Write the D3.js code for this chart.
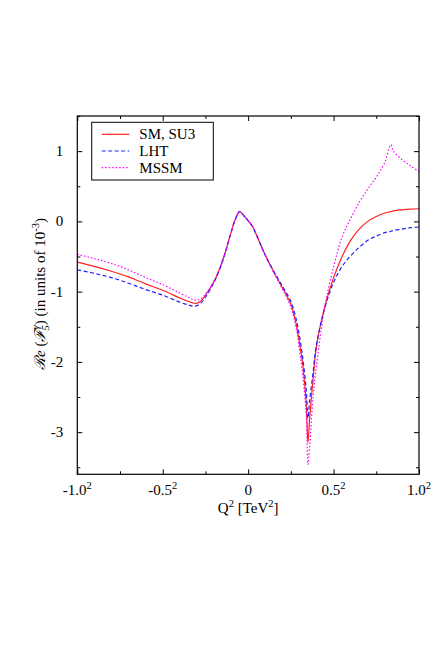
<!DOCTYPE html>
<html>
<head>
<meta charset="utf-8">
<script src="https://cdn.jsdelivr.net/npm/d3@7"></script>
<style>
body{margin:0;background:#fff;}
text{font-family:"Liberation Serif","DejaVu Serif",serif;}
</style>
</head>
<body>
<svg id="chart"></svg>
<script>
// Q values (signed, axis is labelled with the square)
var qVals   =[-1.0,-0.9,-0.8,-0.7,-0.6,-0.5,-0.4,-0.35,-0.325,-0.3,-0.275,-0.25,-0.2,-0.15,-0.1,-0.075,-0.05,-0.025,0,0.025,0.05,0.1,0.15,0.2,0.25,0.28,0.3,0.32,0.34,0.35,0.36,0.38,0.4,0.45,0.5,0.55,0.6,0.65,0.7,0.75,0.8,0.835,0.85,0.9,0.95,1.0];
var smVals  =[-0.58,-0.64,-0.71,-0.79,-0.89,-0.98,-1.09,-1.14,-1.16,-1.165,-1.13,-1.05,-0.86,-0.56,-0.16,0.03,0.14,0.08,0.01,-0.07,-0.2,-0.48,-0.72,-0.94,-1.18,-1.45,-1.72,-2.05,-2.6,-3.15,-2.8,-2.25,-1.78,-1.2,-0.8,-0.5,-0.27,-0.11,0.0,0.07,0.12,0.14,0.15,0.165,0.175,0.18];
var lhtVals =[-0.69,-0.74,-0.8,-0.88,-0.97,-1.05,-1.15,-1.19,-1.205,-1.2,-1.16,-1.08,-0.87,-0.57,-0.16,0.03,0.14,0.08,0.01,-0.07,-0.2,-0.48,-0.71,-0.92,-1.14,-1.38,-1.63,-1.95,-2.4,-2.8,-2.55,-2.15,-1.75,-1.22,-0.87,-0.64,-0.49,-0.37,-0.27,-0.21,-0.16,-0.14,-0.13,-0.11,-0.09,-0.08];
var mssmVals=[-0.47,-0.53,-0.6,-0.69,-0.8,-0.9,-1.02,-1.08,-1.11,-1.12,-1.1,-1.04,-0.85,-0.56,-0.16,0.03,0.14,0.08,0.01,-0.07,-0.2,-0.48,-0.73,-0.96,-1.22,-1.5,-1.83,-2.2,-2.75,-3.46,-3.2,-2.5,-2.05,-1.2,-0.65,-0.22,0.04,0.27,0.46,0.63,0.84,1.09,1.0,0.88,0.79,0.71];

var seriesNames=["SM, SU3","LHT","MSSM"];
var seriesColors=["#ff2020","#2020ff","#ff00ff"];
var seriesDash=[null,"4,2.5","1.5,2"];

var xMajor=[-1,-0.5,0,0.5,1];
var xMajorLabels=["-1.0","-0.5","0","0.5","1.0"];
var xMinor=[-0.75,-0.25,0.25,0.75];
var yMajor=[-3,-2,-1,0,1];
var yMinor=[-3.5,-2.5,-1.5,-0.5,0.5,1.5];

var W=436,H=654;
var pL=77.3,pR=419,pT=116,pB=474.3;

var svg=d3.select('#chart').attr('width',W).attr('height',H);
svg.append('rect').attr('width',W).attr('height',H).attr('fill','#fff');

var x=d3.scaleLinear().domain([-1,1]).range([pL,pR]);
var y=d3.scaleLinear().domain([-3.6,1.5]).range([pB,pT]);

// ticks on all four sides, pointing inward
function tickAxis(gen,vals,size,tr){
  var g=svg.append('g').attr('transform',tr)
    .call(gen.tickValues(vals).tickSizeInner(size).tickSizeOuter(0).tickFormat(''));
  g.select('.domain').remove();
  g.selectAll('line').attr('stroke','#000').attr('stroke-width',1);
  return g;
}
tickAxis(d3.axisBottom(x),xMajor,-5,'translate(0,'+pB+')');
tickAxis(d3.axisBottom(x),xMinor,-3,'translate(0,'+pB+')');
tickAxis(d3.axisTop(x),xMajor,-5,'translate(0,'+pT+')');
tickAxis(d3.axisTop(x),xMinor,-3,'translate(0,'+pT+')');
tickAxis(d3.axisLeft(y),yMajor,-5,'translate('+pL+',0)');
tickAxis(d3.axisLeft(y),yMinor,-3,'translate('+pL+',0)');
tickAxis(d3.axisRight(y),yMajor,-5,'translate('+pR+',0)');
tickAxis(d3.axisRight(y),yMinor,-3,'translate('+pR+',0)');

// tick labels
var xl=svg.append('g').selectAll('text').data(xMajor).enter().append('text')
  .attr('x',d=>x(d)).attr('y',pB+21)
  .attr('text-anchor','middle').attr('font-size',15);
xl.append('tspan').text((d,i)=>xMajorLabels[i]);
xl.filter(d=>d!==0).append('tspan').attr('dy',-6).attr('font-size',10.5).text('2');

svg.append('g').selectAll('text').data(yMajor).enter().append('text')
  .attr('x',pL-14).attr('y',d=>y(d)+5)
  .attr('text-anchor','end').attr('font-size',15)
  .text(d=>d);

// curves
var line=d3.line().x(d=>x(d[0])).y(d=>y(d[1])).curve(d3.curveCatmullRom.alpha(0.5));
[smVals,lhtVals,mssmVals].forEach(function(vals,i){
  svg.append('path')
    .datum(qVals.map((q,j)=>[q,vals[j]]))
    .attr('d',line)
    .attr('fill','none')
    .attr('stroke',seriesColors[i])
    .attr('stroke-width',1.2)
    .attr('stroke-dasharray',seriesDash[i]);
});

// frame
svg.append('rect').attr('x',pL).attr('y',pT)
  .attr('width',pR-pL).attr('height',pB-pT)
  .attr('fill','none').attr('stroke','#000').attr('stroke-width',1.2);

// legend
var lg=svg.append('g');
lg.append('rect').attr('x',91.7).attr('y',122.3).attr('width',121.6).attr('height',57.7)
  .attr('fill','#fff').attr('stroke','#000').attr('stroke-width',1);
seriesNames.forEach(function(n,i){
  var ly=134.3+i*16.7;
  lg.append('line').attr('x1',101.7).attr('x2',129.3).attr('y1',ly).attr('y2',ly)
    .attr('stroke',seriesColors[i]).attr('stroke-width',1.2)
    .attr('stroke-dasharray',seriesDash[i]);
  lg.append('text').attr('x',139.3).attr('y',ly+5).attr('font-size',15).text(n);
});

// axis titles
var xt=svg.append('text').attr('x',x(0)).attr('y',pB+39)
  .attr('text-anchor','middle').attr('font-size',15);
xt.append('tspan').text('Q');
xt.append('tspan').attr('dy',-6).attr('font-size',10.5).text('2');
xt.append('tspan').attr('dy',6).text(' [TeV');
xt.append('tspan').attr('dy',-6).attr('font-size',10.5).text('2');
xt.append('tspan').attr('dy',6).text(']');

var yt=svg.append('text').attr('transform','translate(45,294) rotate(-90)')
  .attr('text-anchor','middle').attr('font-size',15);
yt.append('tspan').attr('font-style','italic').text('\u211Be');
yt.append('tspan').text(' (');
yt.append('tspan').attr('font-style','italic').text('\u2131');
yt.append('tspan').attr('dy',-6).attr('font-size',10.5).attr('font-style','italic').text('\u03B3');
yt.append('tspan').attr('dx',-5).attr('dy',10).attr('font-size',10.5).attr('font-style','italic').text('5');
yt.append('tspan').attr('dy',-4).text(') (in units of 10');
yt.append('tspan').attr('dy',-6).attr('font-size',10.5).text('-3');
yt.append('tspan').attr('dy',6).text(')');
</script>
</body>
</html>
